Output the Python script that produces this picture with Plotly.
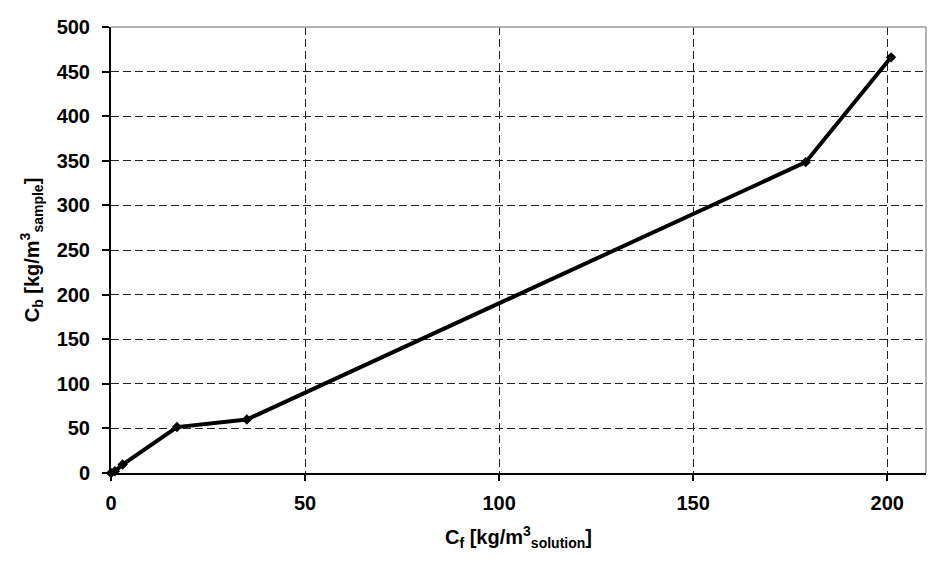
import plotly.graph_objects as go

cf = [0, 1, 3, 17, 35, 179, 201]
cb = [0, 2, 9.5, 51.5, 60, 348.5, 466]

x_ticks = [0, 50, 100, 150, 200]
y_ticks = [0, 50, 100, 150, 200, 250, 300, 350, 400, 450, 500]

W, H = 936, 571
L, R, T, B = 103, 18, 19, 106

fig = go.Figure()
fig.add_trace(go.Scatter(
    x=cf, y=cb, mode="lines+markers",
    line=dict(color="black", width=4),
    marker=dict(symbol="diamond", size=8, color="black"),
    showlegend=False, cliponaxis=False,
))

font = "Liberation Sans, Arial, sans-serif"
fig.update_layout(
    width=W, height=H,
    margin=dict(l=L, r=R, t=T, b=B, autoexpand=False),
    paper_bgcolor="white",
    plot_bgcolor="white",
    font=dict(family=font, color="black"),
    shapes=[
        dict(type="line", xref="paper", yref="paper", x0=0, x1=1, y0=1, y1=1,
             line=dict(color="#9a9a9a", width=1.5)),
        dict(type="line", xref="paper", yref="paper", x0=1, x1=1, y0=0, y1=1,
             line=dict(color="#9a9a9a", width=1.5)),
    ],
    xaxis=dict(
        range=[0, 210], tickvals=x_ticks, ticktext=[str(v) for v in x_ticks],
        automargin=False,
        showgrid=True, gridcolor="#222222", gridwidth=1, griddash="8px,4px",
        zeroline=False, showline=True, linecolor="black", linewidth=2,
        ticks="outside", ticklen=6, tickwidth=1.5, tickcolor="black",
        ticklabelstandoff=5,
        tickfont=dict(size=20, family=font, weight="bold"),
        title=dict(text="<b>C<sub>f</sub> [kg/m<sup>3</sup><sub>solution</sub>]</b>",
                   font=dict(size=20, family=font), standoff=17),
    ),
    yaxis=dict(
        range=[0, 500], tickvals=y_ticks, ticktext=[str(v) for v in y_ticks],
        automargin=False,
        showgrid=True, gridcolor="#222222", gridwidth=1, griddash="8px,4px",
        zeroline=False, showline=True, linecolor="black", linewidth=2,
        ticks="outside", ticklen=7, tickwidth=1.5, tickcolor="black",
        ticklabelstandoff=8,
        tickfont=dict(size=20, family=font, weight="bold"),
        title=dict(text="<b>C<sub>b</sub> [kg/m<sup>3</sup><sub>sample</sub>]</b>",
                   font=dict(size=20, family=font), standoff=12),
    ),
)

fig.write_html("out.html")
